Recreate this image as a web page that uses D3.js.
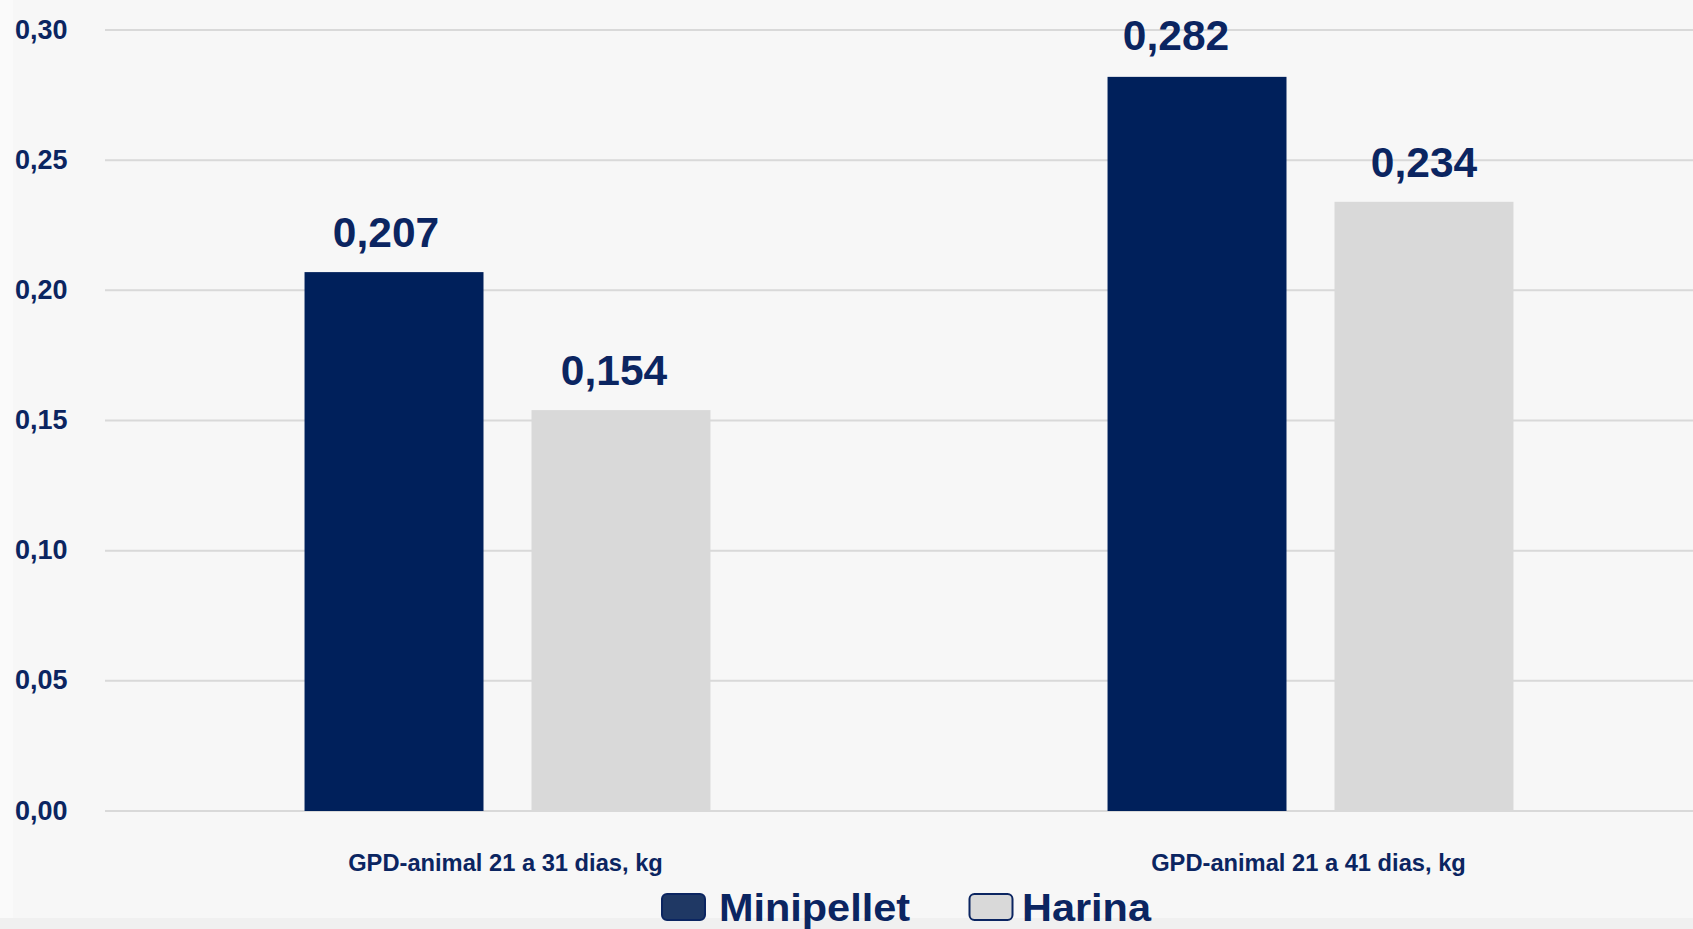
<!DOCTYPE html>
<html>
<head>
<meta charset="utf-8">
<script src="https://cdn.jsdelivr.net/npm/d3@7"></script>
<style>
  html, body { margin: 0; padding: 0; background: #f7f7f7; overflow: hidden; }
  svg { display: block; font-family: "Liberation Sans", Arial, sans-serif; }
</style>
</head>
<body>
<svg id="chart" width="1693" height="929"></svg>
<script>
const categories = ["GPD-animal 21 a 31 dias, kg", "GPD-animal 21 a 41 dias, kg"];
const seriesNames = ["Minipellet", "Harina"];
const minipellet = [0.207, 0.282];
const harina = [0.154, 0.234];
const yTicks = [0.00, 0.05, 0.10, 0.15, 0.20, 0.25, 0.30];
const seriesColors = ["#00205b", "#d9d9d9"];
const textColor = "#0b2561";

const seriesValues = [minipellet, harina];
const data = categories.map((c, i) => ({
  cat: c,
  vals: seriesNames.map((s, j) => ({ s, v: seriesValues[j][i], j, i }))
}));

const fmt = (v, d) => v.toFixed(d).replace(".", ",");

const svg = d3.select("#chart");
const W = 1693, H = 929;

svg.append("rect").attr("width", W).attr("height", H).attr("fill", "#f7f7f7");
svg.append("rect").attr("x", 0).attr("y", 0).attr("width", 13).attr("height", H).attr("fill", "#fafafa");
svg.append("rect").attr("x", 0).attr("y", 918).attr("width", W).attr("height", 11).attr("fill", "#f0f0f0");

const y = d3.scaleLinear().domain([0, 0.30]).range([811, 30]);
const x0 = d3.scaleBand().domain(categories).range([106, 1712]).padding(0);
const x1 = d3.scaleBand().domain(seriesNames).range([0, x0.bandwidth()])
  .paddingInner(0.2115).paddingOuter(0.8747);

// gridlines
svg.append("g").selectAll("line").data(yTicks).join("line")
  .attr("x1", 105).attr("x2", W)
  .attr("y1", d => y(d)).attr("y2", d => y(d))
  .attr("stroke", "#d9d9d9").attr("stroke-width", 2);

// y labels
svg.append("g").selectAll("text").data(yTicks).join("text")
  .attr("x", 15).attr("y", d => y(d) + 8.5)
  .attr("font-size", 27).attr("font-weight", "bold")
  .attr("fill", textColor)
  .text(d => fmt(d, 2));

// bars
const g = svg.append("g").selectAll("g").data(data).join("g")
  .attr("transform", d => `translate(${x0(d.cat)},0)`);

g.selectAll("rect").data(d => d.vals).join("rect")
  .attr("x", d => x1(d.s))
  .attr("width", x1.bandwidth())
  .attr("y", d => y(d.v))
  .attr("height", d => y(0) - y(d.v))
  .attr("fill", d => seriesColors[d.j]);

// value-label nudges (as in the original layout): [category][series] -> [dx, dy]
const labelNudge = [[[-8, 0], [-7, 0]], [[-21, -2], [0, 0.5]]];
g.selectAll("text.val").data(d => d.vals).join("text")
  .attr("class", "val")
  .attr("x", d => x1(d.s) + x1.bandwidth() / 2 + labelNudge[d.i][d.j][0])
  .attr("y", d => y(d.v) - 25 + labelNudge[d.i][d.j][1])
  .attr("text-anchor", "middle")
  .attr("font-size", 42.5).attr("font-weight", "bold")
  .attr("fill", textColor)
  .text(d => fmt(d.v, 3));

// x labels
svg.append("g").selectAll("text").data(categories).join("text")
  .attr("x", d => x0(d) + x0.bandwidth() / 2 - 2)
  .attr("y", 871)
  .attr("text-anchor", "middle")
  .attr("font-size", 23.7).attr("font-weight", "bold")
  .attr("fill", textColor)
  .text(d => d);

// legend
const legendItems = [
  { name: seriesNames[0], sx: 662, tx: 719, tw: 191, fill: "#1f3864" },
  { name: seriesNames[1], sx: 969.5, tx: 1022, tw: 129, fill: "#d9d9d9" }
];
const lg = svg.append("g");
lg.selectAll("rect").data(legendItems).join("rect")
  .attr("x", d => d.sx).attr("y", 894)
  .attr("width", 43).attr("height", 26).attr("rx", 5)
  .attr("fill", d => d.fill)
  .attr("stroke", "#0b2561").attr("stroke-width", 2);
lg.selectAll("text").data(legendItems).join("text")
  .attr("x", d => d.tx).attr("y", 920.5)
  .attr("font-size", 39).attr("font-weight", "bold")
  .attr("fill", textColor)
  .attr("textLength", d => d.tw).attr("lengthAdjust", "spacingAndGlyphs")
  .text(d => d.name);
</script>
</body>
</html>
